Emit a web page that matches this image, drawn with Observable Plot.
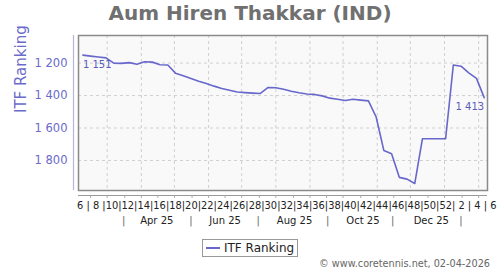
<!DOCTYPE html>
<html><head><meta charset="utf-8">
<script src="https://cdn.jsdelivr.net/npm/d3@7"></script>
<script src="https://cdn.jsdelivr.net/npm/@observablehq/plot@0.6"></script>
<style>
body{margin:0;background:#fff;font-family:"DejaVu Sans",sans-serif}
#wrap{position:relative;width:500px;height:270px;overflow:hidden}
#chart{position:absolute;left:0;top:0}
#title{position:absolute;left:0;top:0px;width:500px;text-align:center;font-weight:bold;font-size:20px;line-height:26px;color:#707070}
#legend{position:absolute;left:202px;top:239px;width:94px;height:16px;border:1px solid #999;background:#fff;font-size:12px;line-height:16px;color:#222;white-space:nowrap}
#legend .sw{display:inline-block;width:14px;height:0;border-top:2px solid #6767cc;vertical-align:middle;margin:0 4px 2px 3px}
#copy{position:absolute;right:10px;top:257px;font-size:9.7px;line-height:14px;color:#666;white-space:nowrap}
</style></head><body>
<div id="wrap">
<div id="chart"></div>
<div id="title">Aum Hiren Thakkar (IND)</div>
<div id="legend"><span class="sw"></span>ITF Ranking</div>
<div id="copy">© www.coretennis.net, 02-04-2026</div>
</div>
<script>
// weekly ITF ranking, ISO week 6 of 2025 through week 6 of 2026
const rankings = [1151,1157,1162,1168,1200,1202,1197,1207,1192,1194,1210,1212,1262,1278,1295,1312,1326,1342,1356,1367,1378,1382,1385,1387,1350,1352,1361,1374,1383,1390,1393,1402,1416,1423,1430,1423,1428,1433,1532,1739,1759,1904,1915,1942,1666,1666,1666,1666,1212,1219,1260,1294,1413];
const firstWeek = "2025-02-07";
const weekLabels = [6,8,10,12,14,16,18,20,22,24,26,28,30,32,34,36,38,40,42,44,46,48,50,52,2,4,6];
const monthLabels = ["Apr 25","Jun 25","Aug 25","Oct 25","Dec 25"];
const monthLabelDates = ["2025-04-15","2025-06-16","2025-08-18","2025-10-19","2025-12-20"];
const monthSeparatorDates = ["2025-03-16","2025-05-16","2025-07-16","2025-09-17","2025-11-15","2026-01-16"];
const gridDates = ["2025-03-01","2025-04-01","2025-05-01","2025-06-01","2025-07-01","2025-08-01","2025-09-01","2025-10-01","2025-11-01","2025-12-01","2026-01-01","2026-02-01"];
const yTicks = [1200,1400,1600,1800];
const xDomain = ["2025-02-03","2026-02-09"];
const yDomain = [1030,1985];

const parse = s => new Date(s + "T00:00:00Z");
const t0 = parse(firstWeek);
const data = rankings.map((r, i) => ({date: d3.utcDay.offset(t0, 7 * i), rank: r}));
const grid = gridDates.map(parse);
const minorTicks = grid.flatMap(d => [d, d3.utcDay.offset(d, -15)]);
const fmt = d => d3.format(",")(d).replace(/,/g, " ");
const weekString = weekLabels.map(w => w < 10 ? ` ${w} ` : `${w}`).join("|").trim();

const lineColor = "#6767cc";
const axisColor = "#6a6acb";

const chart = Plot.plot({
  width: 500, height: 270,
  marginTop: 35, marginBottom: 80, marginLeft: 78, marginRight: 13,
  style: {fontFamily: "DejaVu Sans", background: "transparent", overflow: "visible"},
  x: {type: "utc", domain: xDomain.map(parse), axis: null, label: null},
  y: {domain: yDomain, reverse: true, axis: null, label: null},
  marks: [
    Plot.frame({fill: "#f9f9f9"}),
    Plot.gridX(grid, {stroke: "#cfcfcf", strokeOpacity: 1, strokeDasharray: "3,3"}),
    Plot.gridY(yTicks, {stroke: "#cfcfcf", strokeOpacity: 1, strokeDasharray: "3,3"}),
    Plot.frame({stroke: "#8a8a8a", strokeWidth: 1.5}),
    Plot.ruleX([parse(xDomain[0])], {dx: -5, stroke: "#b4b4e0", strokeWidth: 1.2}),
    Plot.axisY(yTicks, {tickSize: 0, tickPadding: 11, fill: axisColor, fontSize: 11.5, tickFormat: fmt, label: null}),
    Plot.text(["ITF Ranking"], {frameAnchor: "left", rotate: -90, dx: -57, fill: axisColor, fontSize: 15}),
    Plot.ruleY([yDomain[1]], {dy: 5, stroke: "#999", strokeWidth: 1.2}),
    Plot.axisX(minorTicks, {tickSize: 3, tickFormat: () => "", dy: 5, stroke: "#aaa", label: null}),
    Plot.text([weekString], {frameAnchor: "bottom-left", textAnchor: "start", dx: -1.5, dy: 15.5, lineAnchor: "middle", fontSize: 9.9, fill: "#222"}),
    Plot.text(monthLabels, {x: (d, i) => parse(monthLabelDates[i]), frameAnchor: "bottom", dy: 30.5, lineAnchor: "middle", fontSize: 10, fill: "#222"}),
    Plot.text(monthSeparatorDates, {x: d => parse(d), text: () => "|", frameAnchor: "bottom", dy: 30.5, lineAnchor: "middle", fontSize: 10, fill: "#666"}),
    Plot.line(data, {x: "date", y: "rank", stroke: lineColor, strokeWidth: 1.6}),
    Plot.text([data[0]], {x: "date", y: "rank", text: d => fmt(d.rank), textAnchor: "start", dy: 9.5, lineAnchor: "middle", fill: "#5a5abf", fontSize: 10}),
    Plot.text([data[data.length - 1]], {x: "date", y: "rank", text: d => fmt(d.rank), textAnchor: "end", dy: 9.5, lineAnchor: "middle", fill: "#5a5abf", fontSize: 10})
  ]
});
document.getElementById("chart").appendChild(chart);
</script>
</body></html>
